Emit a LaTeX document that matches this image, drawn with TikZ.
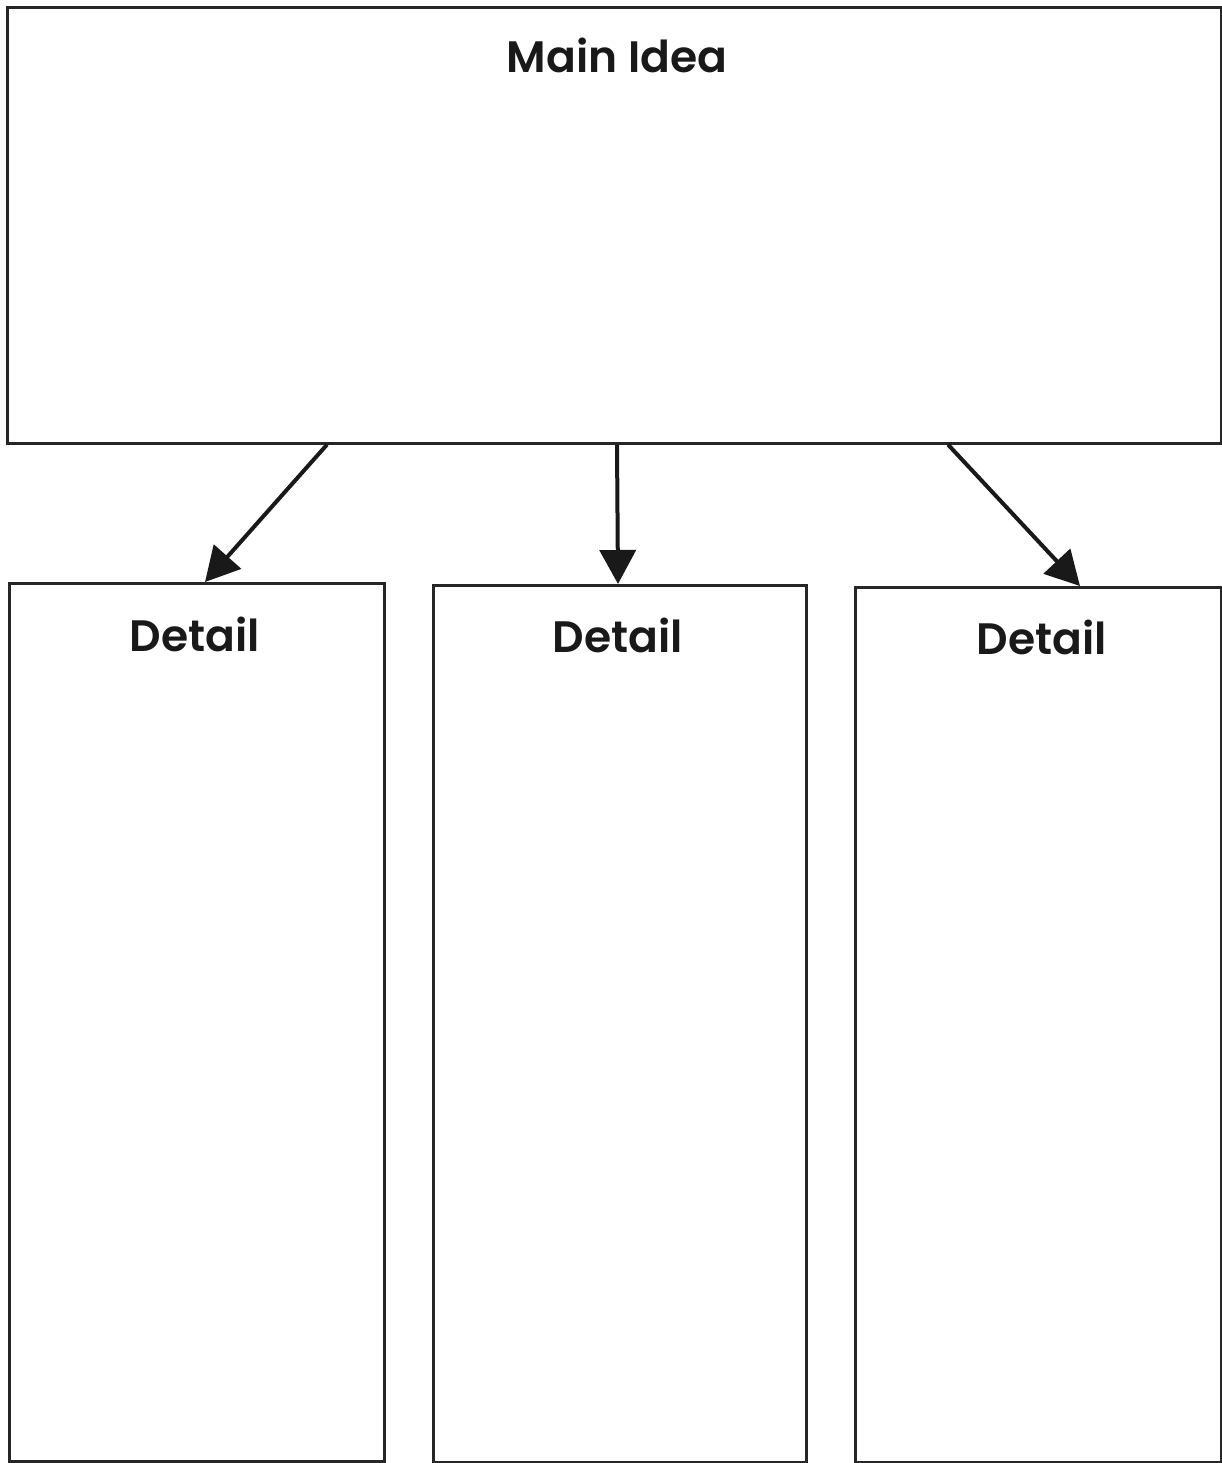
\documentclass[tikz,border=0pt]{standalone}
\usepackage{fontspec}
\setmainfont{Poppins}[UprightFont=* SemiBold]
\usetikzlibrary{arrows.meta}
\begin{document}
\begin{tikzpicture}[x=1pt,y=-1pt,
  box/.style={draw=black!85, line width=2.6pt, rectangle, inner sep=0pt, anchor=north west},
  ttl/.style={font=\fontsize{44}{53}\selectfont, text=black!90, anchor=base},
  arr/.style={draw=black!90, line width=4pt, -{Triangle[length=34pt,width=36pt]}}]
\useasboundingbox (0,0) rectangle (1221,1463);
\node[box, minimum width=1214pt, minimum height=436pt] (main) at (6,6) {};
\node[box, minimum width=375pt, minimum height=878pt] (d1) at (8,582) {};
\node[box, minimum width=373pt, minimum height=877pt] (d2) at (432,584) {};
\node[box, minimum width=366pt, minimum height=875pt] (d3) at (854,586) {};
\node[ttl] (t0) at (617,73) {Main Idea};
\node[ttl] (t1) at (195,651) {Detail};
\node[ttl] (t2) at (618,652) {Detail};
\node[ttl] (t3) at (1042,654) {Detail};
\draw[arr] (main.south -| 327,0) -- (d1.north -| 205,0);
\draw[arr] (main.south -| 617,0) -- (d2.north -| 618,0);
\draw[arr] (main.south -| 948,0) -- (d3.north -| 1080,0);
\end{tikzpicture}
\end{document}
